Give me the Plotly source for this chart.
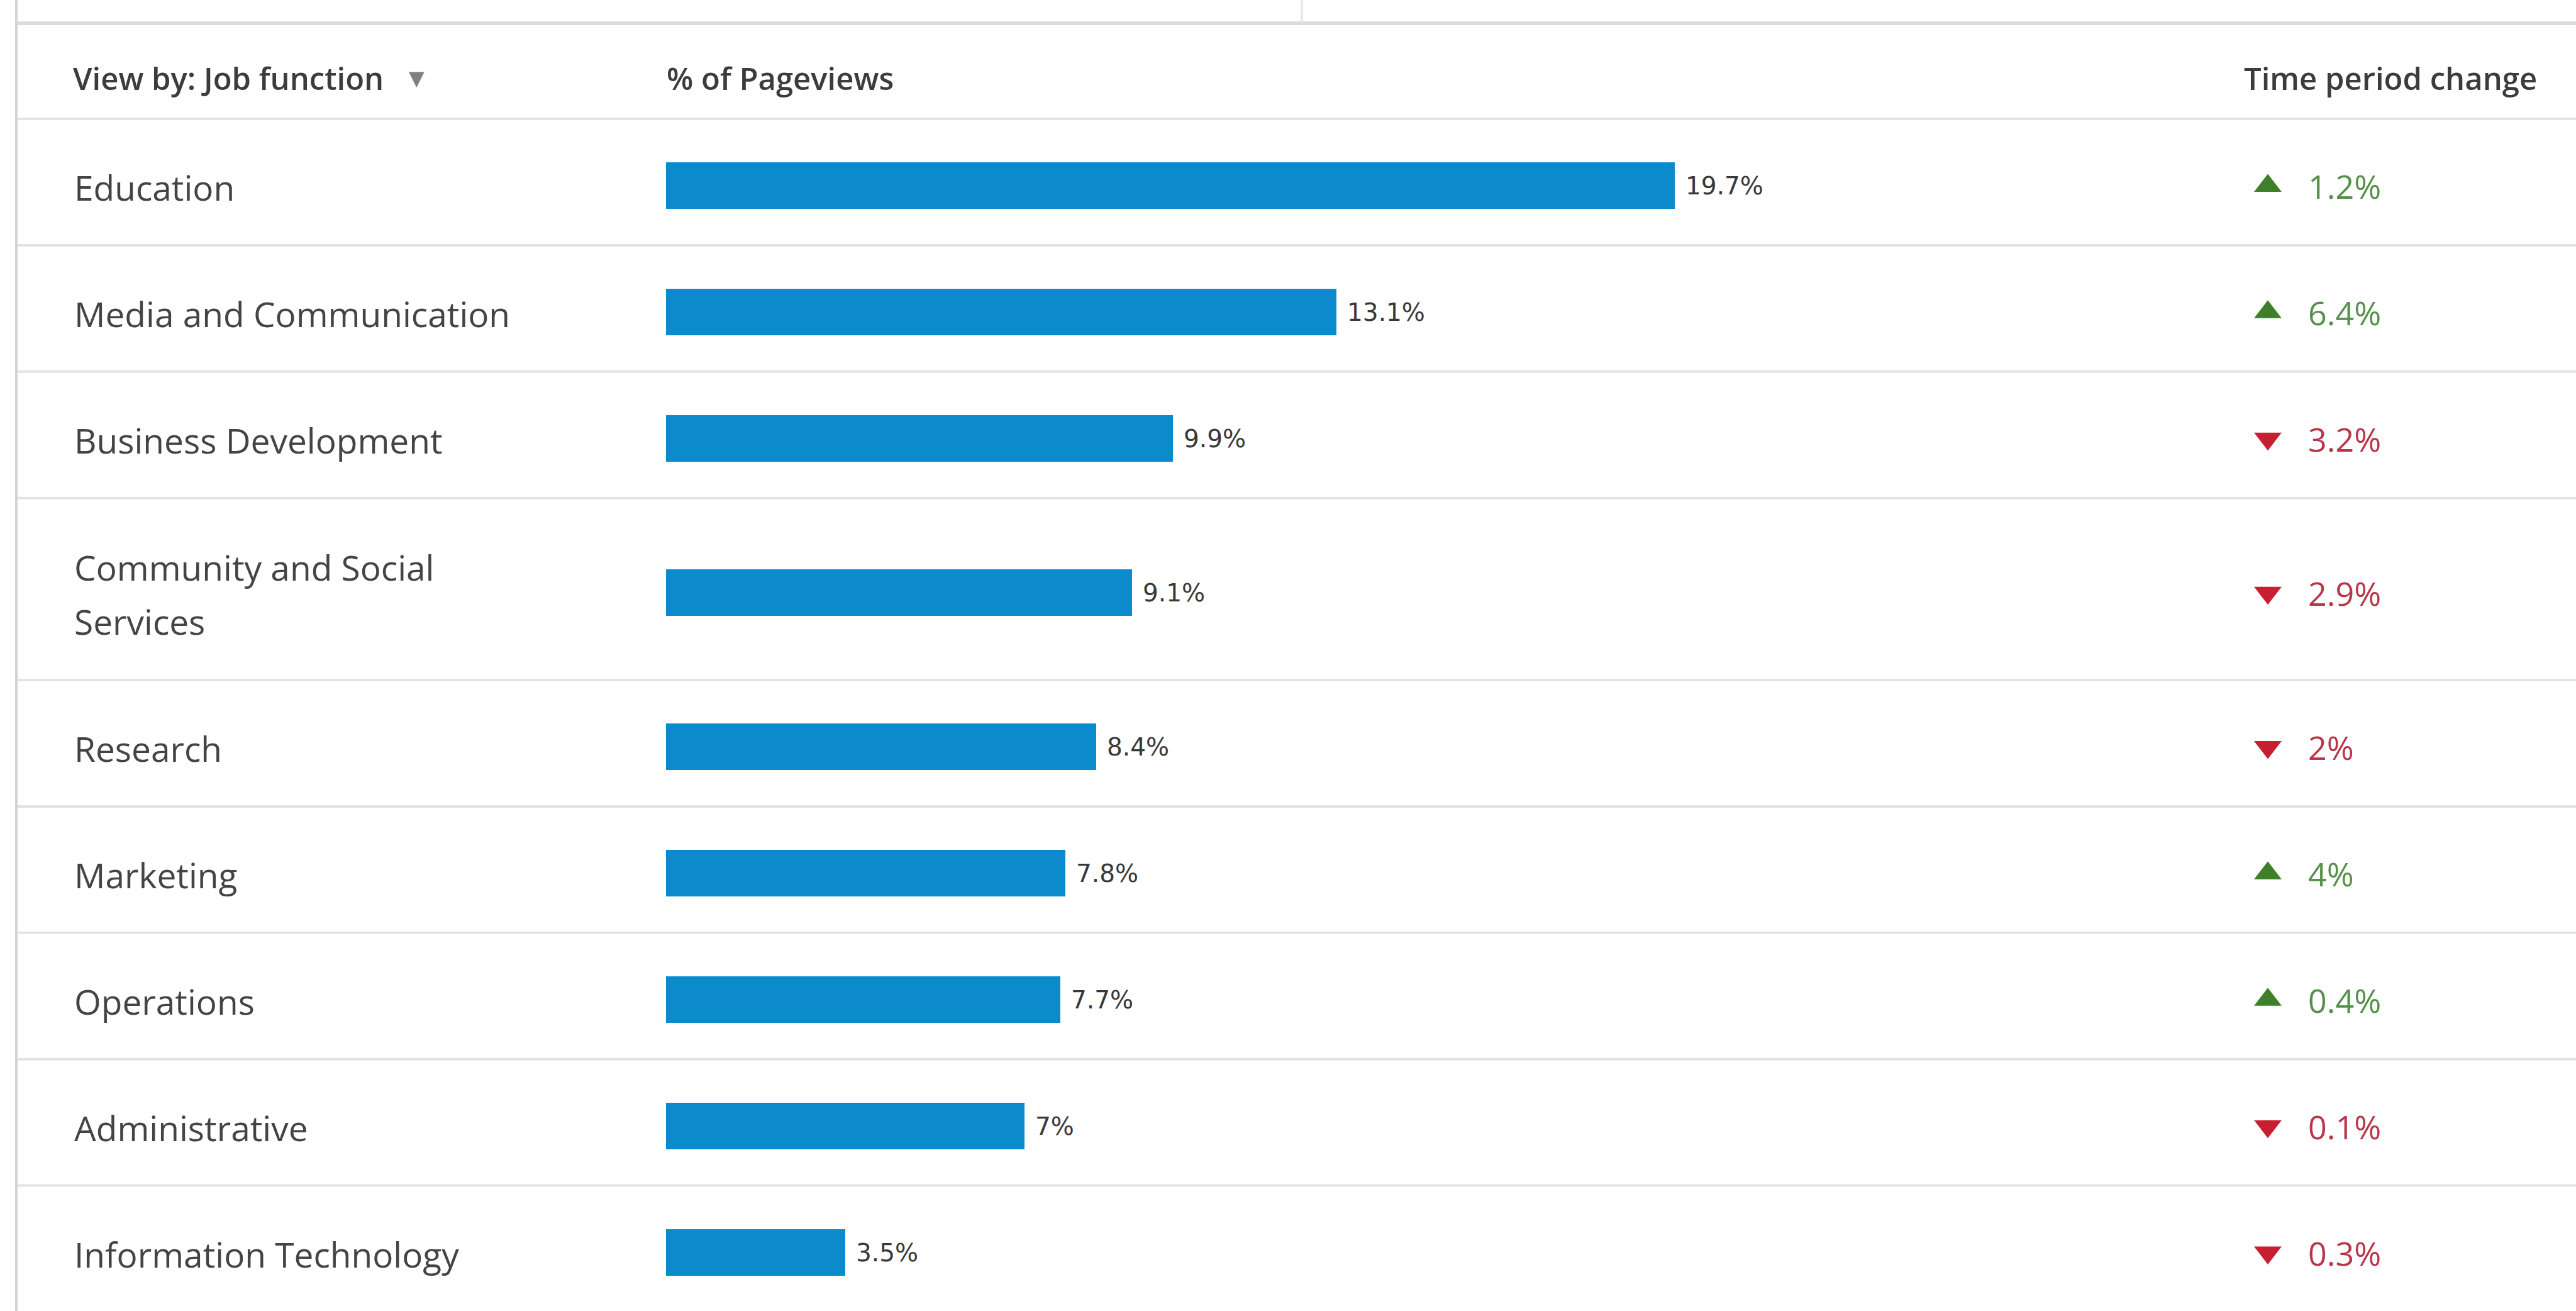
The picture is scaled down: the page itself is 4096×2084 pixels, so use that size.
import plotly.graph_objects as go

# ---------------- data ----------------
job_functions = [
    "Education",
    "Media and Communication",
    "Business Development",
    "Community and Social\nServices",
    "Research",
    "Marketing",
    "Operations",
    "Administrative",
    "Information Technology",
]
pageviews_pct = [19.7, 13.1, 9.9, 9.1, 8.4, 7.8, 7.7, 7.0, 3.5]
period_change_pct = [1.2, 6.4, -3.2, -2.9, -2.0, 4.0, 0.4, -0.1, -0.3]
header_labels = ["View by: Job function", "% of Pageviews", "Time period change"]

# ---------------- layout constants (output pixels) ----------------
W, H = 4096, 2084
ROW = 200.9            # px per one-line row
HEADER_LINE = 189      # y of the header separator
WRAP_EXTRA = 0.44      # extra row units per extra text line
LINE_PX = 86           # line spacing for wrapped labels
CONTENT_SHIFT = 6      # row content sits slightly below the row centre (px)
BAR_X0 = 1059          # px where the bars start
PX_PER_PCT = 81.4      # px per percentage point
BAR_W = 74 / ROW       # bar thickness in row units

FONT = "Open Sans"
TXT = "#444444"
BAR_COLOR = "#0b8bcc"
UP_TRI, UP_TXT = "#3f7f2a", "#55914a"
DN_TRI, DN_TXT = "#c81e32", "#b8364a"
LINE_COLOR = "#e3e3e3"

# row geometry in row units
heights = [1 + WRAP_EXTRA * lbl.count("\n") for lbl in job_functions]
tops, acc = [], 0.0
for h in heights:
    tops.append(acc)
    acc += h
bottoms = [t + h for t, h in zip(tops, heights)]
centers = [t + h / 2 + CONTENT_SHIFT / ROW for t, h in zip(tops, heights)]

y_range = [(H - HEADER_LINE) / ROW, -HEADER_LINE / ROW]
x_range = [-BAR_X0 / PX_PER_PCT, (W - BAR_X0) / PX_PER_PCT]


def fmt(v):
    return f"{abs(v):g}%"


fig = go.Figure()

fig.add_trace(go.Bar(
    x=pageviews_pct, y=centers, orientation="h", width=BAR_W,
    marker=dict(color=BAR_COLOR, line=dict(width=0)),
    hoverinfo="skip", showlegend=False,
))

# change direction markers on a pixel-unit overlay axis
TRI_X = 3606
fig.add_trace(go.Scatter(
    x=[TRI_X] * len(period_change_pct), y=centers, xaxis="x2", yaxis="y",
    mode="markers",
    marker=dict(
        symbol=["triangle-up" if v >= 0 else "triangle-down" for v in period_change_pct],
        color=[UP_TRI if v >= 0 else DN_TRI for v in period_change_pct],
        size=38, line=dict(width=0),
    ),
    hoverinfo="skip", showlegend=False,
))

annotations = []
# category labels
for lbl, c in zip(job_functions, centers):
    lines = lbl.split("\n")
    n = len(lines)
    for i, ln in enumerate(lines):
        annotations.append(dict(
            x=116 / W, xref="paper", y=c, yref="y", text=ln, showarrow=False,
            xanchor="left", yanchor="middle", yshift=-(i - (n - 1) / 2) * LINE_PX - 2,
            font=dict(family=FONT, size=55, color=TXT),
        ))
# bar value labels
for v, c in zip(pageviews_pct, centers):
    annotations.append(dict(
        x=v, xref="x", y=c, yref="y", text=f"{v:g}%", showarrow=False,
        xanchor="left", yanchor="middle", xshift=15,
        font=dict(family="DejaVu Sans", size=39, color="#383838"),
    ))
# change values
for v, c in zip(period_change_pct, centers):
    annotations.append(dict(
        x=3668 / W, xref="paper", y=c, yref="y", text=fmt(v), showarrow=False,
        xanchor="left", yanchor="middle",
        font=dict(family=FONT, size=52, color=UP_TXT if v >= 0 else DN_TXT),
    ))
# headers
for lbl, xp in zip(header_labels, [114, 1058, 3566]):
    annotations.append(dict(
        x=xp / W, xref="paper", y=1 - 124 / H, yref="paper", text=lbl, showarrow=False,
        xanchor="left", yanchor="middle",
        font=dict(family=FONT, size=49, color="#3c3c3c", weight=600),
    ))
annotations.append(dict(
    x=662 / W, xref="paper", y=1 - 124 / H, yref="paper", text="▼", showarrow=False,
    xanchor="center", yanchor="middle",
    font=dict(family="DejaVu Sans", size=32, color="#808080"),
))

shapes = []
# top rule and small divider above it
shapes.append(dict(type="line", xref="paper", yref="paper", x0=26 / W, x1=1,
                   y0=1 - 37 / H, y1=1 - 37 / H, line=dict(color="#dcdcdc", width=6)))
shapes.append(dict(type="line", xref="paper", yref="paper", x0=2070 / W, x1=2070 / W,
                   y0=1, y1=1 - 37 / H, line=dict(color="#e2e2e2", width=3)))
# left border
shapes.append(dict(type="line", xref="paper", yref="paper", x0=26 / W, x1=26 / W,
                   y0=0, y1=1, line=dict(color="#d4d4d4", width=4)))
# header separator and row separators
for b in [0.0] + bottoms[:-1]:
    shapes.append(dict(type="line", xref="paper", yref="y", x0=28 / W, x1=1,
                       y0=b, y1=b, line=dict(color=LINE_COLOR, width=4)))

fig.update_layout(
    width=W, height=H,
    margin=dict(l=0, r=0, t=0, b=0, pad=0),
    paper_bgcolor="white", plot_bgcolor="white",
    xaxis=dict(range=x_range, domain=[0, 1], visible=False, fixedrange=True),
    xaxis2=dict(range=[0, W], domain=[0, 1], overlaying="x", visible=False, fixedrange=True),
    yaxis=dict(range=y_range, domain=[0, 1], visible=False, fixedrange=True),
    annotations=annotations,
    shapes=shapes,
    bargap=0,
)

fig.write_html("out.html")
